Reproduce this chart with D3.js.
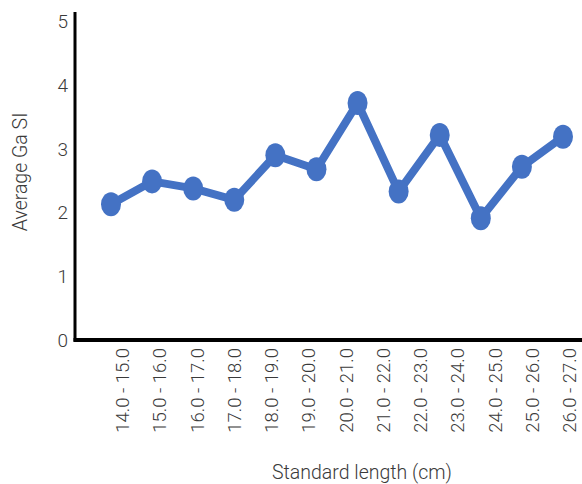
<!DOCTYPE html>
<html>
<head>
<meta charset="utf-8">
<script src="https://cdn.jsdelivr.net/npm/d3@7"></script>
<style>
  html, body { margin: 0; padding: 0; background: #fff; }
  text { font-family: Roboto, "Noto Sans", sans-serif; font-weight: 300; fill: #3a3a3a; }
</style>
</head>
<body>
<svg id="chart" width="582" height="484"></svg>
<script>
const categories = ["14.0 - 15.0","15.0 - 16.0","16.0 - 17.0","17.0 - 18.0","18.0 - 19.0","19.0 - 20.0","20.0 - 21.0","21.0 - 22.0","22.0 - 23.0","23.0 - 24.0","24.0 - 25.0","25.0 - 26.0","26.0 - 27.0"];
const values = [2.13, 2.49, 2.38, 2.20, 2.90, 2.68, 3.72, 2.33, 3.22, 1.91, 2.72, 3.19];
const yTicks = [0, 1, 2, 3, 4, 5];
const yTitle = "Average Ga SI";
const xTitle = "Standard length (cm)";

(function () {
const svg = d3.select("#chart");
const mLeft = 75, mRight = 582, mTop = 12, mBottom = 340;

const y = d3.scaleLinear().domain([0, 5]).range([mBottom, 21.5]);
const xLab = d3.scalePoint().domain(categories).range([129, 576]);
const xPt = d3.scalePoint().domain(d3.range(values.length)).range([111, 563]);

// y tick labels
svg.append("g").selectAll("text").data(yTicks).join("text")
  .attr("x", 68).attr("y", d => y(d)).attr("dy", "0.36em")
  .attr("text-anchor", "end").style("font-size", "19px").text(d => d);

// x tick labels
svg.append("g").selectAll("text").data(categories).join("text")
  .attr("transform", d => `translate(${xLab(d)},348) rotate(-90)`)
  .attr("text-anchor", "end").style("font-size", "18.5px").text(d => d);

// titles
svg.append("text").attr("transform", "translate(27,172) rotate(-90)")
  .attr("text-anchor", "middle").style("font-size", "19.5px").text(yTitle);
svg.append("text").attr("x", 362).attr("y", 479)
  .attr("text-anchor", "middle").style("font-size", "19.5px").text(xTitle);

// line
const line = d3.line().x((d, i) => xPt(i)).y(d => y(d));
svg.append("path").datum(values).attr("d", line)
  .attr("fill", "none").attr("stroke", "#4472C4").attr("stroke-width", 8)
  .attr("stroke-linejoin", "round");
svg.append("g").selectAll("ellipse").data(values).join("ellipse")
  .attr("cx", (d, i) => xPt(i)).attr("cy", d => y(d))
  .attr("rx", 10).attr("ry", 12).attr("fill", "#4472C4");

// axes lines
svg.append("line").attr("x1", mLeft).attr("x2", mLeft).attr("y1", mTop).attr("y2", mBottom + 1.5)
  .attr("stroke", "#000").attr("stroke-width", 3);
svg.append("line").attr("x1", mLeft - 1.5).attr("x2", mRight).attr("y1", mBottom).attr("y2", mBottom)
  .attr("stroke", "#000").attr("stroke-width", 4);
})();
</script>
</body>
</html>
